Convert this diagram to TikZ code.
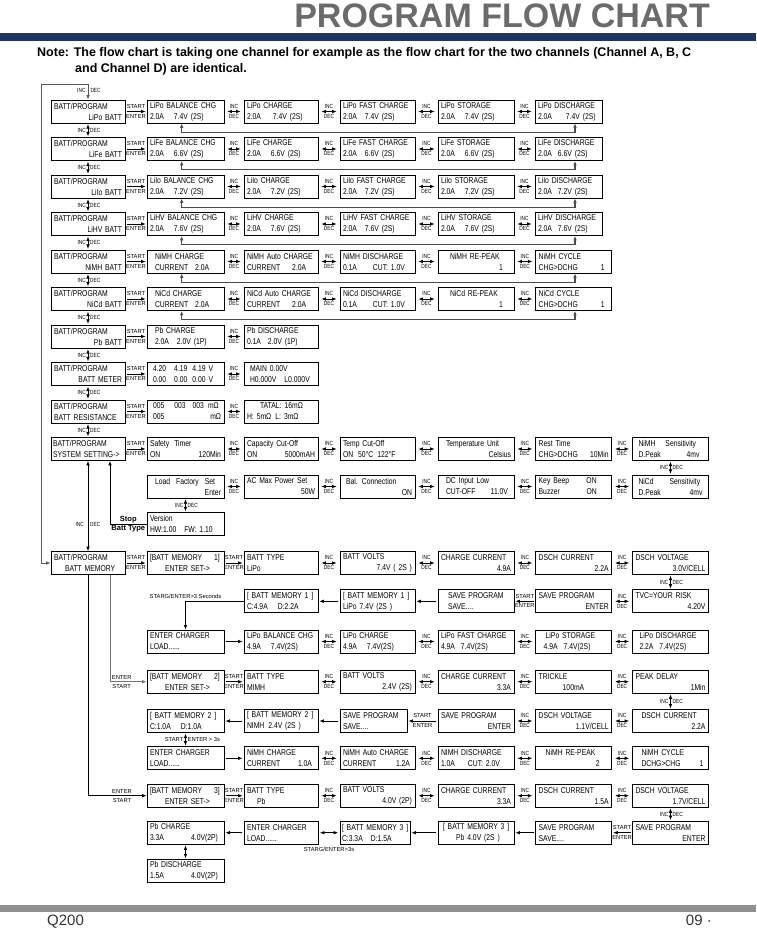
\documentclass[tikz,border=0pt]{standalone}
\usepackage{fontspec}
\setmainfont{Liberation Sans}[FakeStretch=0.8]
\newfontfamily\plainsf{Liberation Sans}
\usepackage{tikz}
\usetikzlibrary{arrows.meta, positioning}
\definecolor{navybar}{HTML}{1D3560}
\definecolor{headgray}{HTML}{6B6B6B}
\definecolor{footgray}{HTML}{8F8F8F}

\begin{document}
\begin{tikzpicture}[x=1pt, y=-1pt, >={Latex[length=4.5pt, width=3.6pt]},
    font=\fontsize{8.5}{11}\selectfont,
    scr/.style={draw, line width=0.8pt, minimum height=23pt, text width=#1, inner xsep=3pt, inner ysep=1pt, align=left},
    scr/.default=70pt,
    tag/.style={font=\fontsize{6}{6}\selectfont, inner sep=0.8pt},
    ptag/.style={font=\plainsf\fontsize{5.8}{6}\selectfont, inner sep=0.8pt},
    tagup/.style={midway, tag, above=2pt},
    tagdn/.style={midway, tag, below=1.5pt},
    ptagup/.style={midway, ptag, above=2pt},
    ptagdn/.style={midway, ptag, below=1.5pt},
    tagl/.style={midway, tag, left=1pt},
    tagr/.style={midway, tag, right=1pt},
    ptagl/.style={midway, ptag, left=1pt},
    ptagr/.style={midway, ptag, right=1pt},
    idarr/.style={<->, line width=0.7pt, shorten <=3pt, shorten >=3pt},
    goarr/.style={->, line width=0.7pt, shorten <=1.5pt, shorten >=1pt},
    vidarr/.style={<->, line width=0.7pt, shorten <=0.8pt, shorten >=0.8pt},
    wire/.style={line width=0.8pt},
    fback/.style={<->, line width=1.1pt, draw=black!70},
    stopfont/.style={font=\plainsf\bfseries\fontsize{7.5}{8}\selectfont, inner sep=1pt}]
    \useasboundingbox (0,0) rectangle (756,929);

    % header and footer
    \node[anchor=base east, inner sep=0, text=headgray, font=\plainsf\bfseries\fontsize{34}{34}\selectfont] (title) at (710,27.5) {PROGRAM FLOW CHART};
    \fill[navybar] (0,33) rectangle (756,41);
    \node[anchor=base west, inner sep=0, font=\plainsf\bfseries\fontsize{12.5}{14}\selectfont] (note1) at (37,56) {Note: The flow chart is taking one channel for example as the flow chart for the two channels (Channel A, B, C};
    \node[anchor=base west, inner sep=0, font=\plainsf\bfseries\fontsize{12.5}{14}\selectfont] (note2) at (75,72) {and Channel D) are identical.};
    \fill[footgray] (0,905) rectangle (756,912);
    \node[anchor=base west, inner sep=0, font=\plainsf\fontsize{15}{15}\selectfont, text=black!80] (model) at (47,925) {Q200};
    \node[anchor=base east, inner sep=0, font=\plainsf\fontsize{15}{15}\selectfont, text=black!80] (page) at (712,925) {09 ·};

    % battery rows
    \node[scr=68pt] (lipo0) at (88,111.5) {BATT/PROGRAM\\\hspace*{\fill}LiPo BATT};
    \node[scr=71pt] (lipo1) at (185.5,111.5) {LiPo BALANCE CHG\\2.0A\hspace{10pt}7.4V (2S)};
    \node[scr=68pt] (lipo2) at (281,111.5) {LiPo CHARGE\\2.0A\hspace{12pt}7.4V (2S)};
    \node[scr=69pt] (lipo3) at (377.5,111.5) {LiPo FAST CHARGE\\2.0A\hspace{8pt}7.4V (2S)};
    \node[scr] (lipo4) at (476,111.5) {LiPo STORAGE\\2.0A\hspace{10pt}7.4V (2S)};
    \node[scr=61pt] (lipo5) at (568.5,111.5) {LiPo DISCHARGE\\2.0A\hspace{14pt}7.4V~(2S)};

    \node[scr=68pt] (life0) at (88,149) {BATT/PROGRAM\\\hspace*{\fill}LiFe BATT};
    \node[scr=71pt] (life1) at (185.5,149) {LiFe BALANCE CHG\\2.0A\hspace{10pt}6.6V (2S)};
    \node[scr=68pt] (life2) at (281,149) {LiFe CHARGE\\2.0A\hspace{10pt}6.6V (2S)};
    \node[scr=69pt] (life3) at (377.5,149) {LiFe FAST CHARGE\\2.0A\hspace{8pt}6.6V (2S)};
    \node[scr] (life4) at (476,149) {LiFe STORAGE\\2.0A\hspace{10pt}6.6V (2S)};
    \node[scr=61pt] (life5) at (568.5,149) {LiFe DISCHARGE\\2.0A\hspace{6pt}6.6V (2S)};

    \node[scr=68pt] (lilo0) at (88,186.5) {BATT/PROGRAM\\\hspace*{\fill}LiIo BATT};
    \node[scr=71pt] (lilo1) at (185.5,186.5) {LiIo BALANCE CHG\\2.0A\hspace{10pt}7.2V (2S)};
    \node[scr=68pt] (lilo2) at (281,186.5) {LiIo CHARGE\\2.0A\hspace{10pt}7.2V (2S)};
    \node[scr=69pt] (lilo3) at (377.5,186.5) {LiIo FAST CHARGE\\2.0A\hspace{8pt}7.2V (2S)};
    \node[scr] (lilo4) at (476,186.5) {LiIo STORAGE\\2.0A\hspace{10pt}7.2V (2S)};
    \node[scr=61pt] (lilo5) at (568.5,186.5) {LiIo DISCHARGE\\2.0A\hspace{6pt}7.2V (2S)};

    \node[scr=68pt] (lihv0) at (88,224) {BATT/PROGRAM\\\hspace*{\fill}LiHV BATT};
    \node[scr=71pt] (lihv1) at (185.5,224) {LiHV BALANCE CHG\\2.0A\hspace{10pt}7.6V (2S)};
    \node[scr=68pt] (lihv2) at (281,224) {LiHV CHARGE\\2.0A\hspace{10pt}7.6V (2S)};
    \node[scr=69pt] (lihv3) at (377.5,224) {LiHV FAST CHARGE\\2.0A\hspace{8pt}7.6V (2S)};
    \node[scr] (lihv4) at (476,224) {LiHV STORAGE\\2.0A\hspace{10pt}7.6V (2S)};
    \node[scr=61pt] (lihv5) at (568.5,224) {LiHV DISCHARGE\\2.0A\hspace{6pt}7.6V (2S)};

    \node[scr=68pt] (nimh0) at (88,261.5) {BATT/PROGRAM\\\hspace*{\fill}NiMH BATT};
    \node[scr=71pt] (nimh1) at (185.5,261.5) {\hspace*{5pt}NiMH CHARGE\\\hspace*{5pt}CURRENT\hspace{7pt}2.0A};
    \node[scr=68pt] (nimh2) at (281,261.5) {NiMH Auto CHARGE\\CURRENT\hspace{12pt}2.0A};
    \node[scr=69pt] (nimh3) at (377.5,261.5) {NiMH DISCHARGE\\0.1A\hspace{16pt}CUT: 1.0V};
    \node[scr] (nimh4) at (476,261.5) {\hspace*{9pt}NiMH RE-PEAK\\\hspace*{\fill}1\hspace{8pt}\null};
    \node[scr] (nimh5) at (573.7,261.5) {NiMH CYCLE\\CHG>DCHG\hfill 1\hspace{4pt}\null};

    \node[scr=68pt] (nicd0) at (88,299) {BATT/PROGRAM\\\hspace*{\fill}NiCd BATT};
    \node[scr=71pt] (nicd1) at (185.5,299) {\hspace*{5pt}NiCd CHARGE\\\hspace*{5pt}CURRENT\hspace{7pt}2.0A};
    \node[scr=68pt] (nicd2) at (281,299) {NiCd Auto CHARGE\\CURRENT\hspace{12pt}2.0A};
    \node[scr=69pt] (nicd3) at (377.5,299) {NiCd DISCHARGE\\0.1A\hspace{16pt}CUT: 1.0V};
    \node[scr] (nicd4) at (476,299) {\hspace*{9pt}NiCd RE-PEAK\\\hspace*{\fill}1\hspace{8pt}\null};
    \node[scr] (nicd5) at (573.7,299) {NiCd CYCLE\\CHG>DCHG\hfill 1\hspace{4pt}\null};

    \node[scr=68pt] (pb0) at (88,336.5) {BATT/PROGRAM\\\hspace*{\fill}Pb BATT};
    \node[scr=71pt] (pb1) at (185.5,336.5) {\hspace*{5pt}Pb CHARGE\\\hspace*{5pt}2.0A\hspace{8pt}2.0V (1P)};
    \node[scr=68pt] (pb2) at (281,336.5) {Pb DISCHARGE\\0.1A\hspace{7pt}2.0V (1P)};

    \node[scr=68pt] (meter0) at (88,374) {BATT/PROGRAM\\\hspace*{\fill}BATT METER};
    \node[scr=71pt] (meter1) at (185.5,374) {\hspace*{3pt}4.20\hspace{8pt}4.19\hspace{5pt}4.19 V\\\hspace*{3pt}0.00\hspace{8pt}0.00\hspace{5pt}0.00 V};
    \node[scr=68pt] (meter2) at (281,374) {\hspace*{3pt}MAIN 0.00V\\\hspace*{3pt}H0.000V\hspace{8pt}L0.000V};

    \node[scr=68pt] (res0) at (88,411.5) {BATT/PROGRAM\\BATT~RESISTANCE};
    \node[scr=71pt] (res1) at (185.5,411.5) {\hspace*{3pt}005\hspace{10pt}003\hspace{7pt}003\hspace{4pt}mΩ\\\hspace*{3pt}005\hspace*{\fill}mΩ};
    \node[scr=68pt] (res2) at (281,411.5) {\hspace*{13pt}TATAL:\hspace{3pt}16mΩ\\H:\hspace{3pt}5mΩ\hspace{4pt}L:\hspace{3pt}3mΩ};

    % system setting
    \node[scr=70pt, inner xsep=2pt] (sys0) at (88,449) {BATT/PROGRAM\\SYSTEM~SETTING->};
    \node[scr=71pt] (sys1) at (185.5,449) {Safety\hspace{5pt}Timer\\ON\hfill 120Min};
    \node[scr=68pt] (sys2) at (281,449) {Capacity Cut-Off\\ON\hfill 5000mAH};
    \node[scr=69pt] (sys3) at (377.5,449) {Temp Cut-Off\\ON\hspace{5pt}50°C\hspace{4pt}122°F};
    \node[scr] (sys4) at (476,449) {\hspace*{5pt}Temperature Unit\\\hspace*{\fill}Celsius};
    \node[scr] (sys5) at (573.7,449) {Rest Time\\CHG>DCHG\hfill 10Min};
    \node[scr] (sys6) at (670.5,449) {\hspace*{3pt}NiMH\hspace{10pt}Sensitivity\\\hspace*{3pt}D.Peak\hfill 4mv\hspace{6pt}\null};
    \node[scr] (sys7) at (670.5,486.5) {\hspace*{3pt}NiCd\hspace{16pt}Sensitivity\\\hspace*{3pt}D.Peak\hfill 4mv\hspace{3pt}\null};
    \node[scr] (sys8) at (573.7,486.5) {Key Beep\hfill ON\hspace{12pt}\null\\Buzzer\hfill ON\hspace{12pt}\null};
    \node[scr] (sys9) at (476,486.5) {\hspace*{5pt}DC Input Low\\\hspace*{5pt}CUT-OFF\hfill 11.0V\hspace{3pt}\null};
    \node[scr=69pt] (sys10) at (377.5,486.5) {\hspace*{3pt}Bal. Connection\\\hspace*{\fill}ON};
    \node[scr=68pt] (sys11) at (281,486.5) {AC Max Power Set\\\hspace*{\fill}50W};
    \node[scr=71pt] (sys12) at (185.5,486.5) {\hspace*{5pt}Load\hspace{6pt}Factory\hspace{6pt}Set\\\hspace*{\fill}Enter};
    \node[scr=71pt] (sys13) at (185.5,524) {Version\\HW:1.00\hspace{8pt}FW: 1.10};

    % battery memory
    \node[scr=68pt] (mem) at (88,563) {BATT/PROGRAM\\\hspace*{11pt}BATT MEMORY};
    \node[scr=71pt] (ma1) at (185.5,563) {[BATT MEMORY\hspace{12pt}1]\\\hspace*{15pt}ENTER SET->};
    \node[scr=68pt] (ma2) at (281,563) {BATT TYPE\\LiPo};
    \node[scr=69pt] (ma3) at (377.5,563) {BATT VOLTS\\\hspace*{\fill}7.4V ( 2S )};
    \node[scr] (ma4) at (476,563) {CHARGE CURRENT\\\hspace*{\fill}4.9A};
    \node[scr] (ma5) at (573.7,563) {DSCH CURRENT\\\hspace*{\fill}2.2A};
    \node[scr] (ma6) at (670.5,563) {DSCH VOLTAGE\\\hspace*{\fill}3.0V/CELL};
    \node[scr] (ma7) at (670.5,601.3) {TVC=YOUR RISK\\\hspace*{\fill}4.20V};
    \node[scr] (ma8) at (573.7,601.3) {SAVE PROGRAM\\\hspace*{\fill}ENTER};
    \node[scr] (ma9) at (476,601.3) {\hspace*{7pt}SAVE PROGRAM\\\hspace*{7pt}SAVE....};
    \node[scr=69pt] (ma10) at (377.5,601.3) {\mbox{[ BATT MEMORY 1 ]}\\LiPo\hspace{3pt}7.4V (2S )};
    \node[scr=68pt] (ma11) at (281,601.3) {\mbox{[ BATT MEMORY 1 ]}\\C:4.9A\hspace{10pt}D:2.2A};
    \node[scr=71pt] (ma12) at (185.5,641.5) {ENTER CHARGER\\LOAD......};
    \node[scr=68pt] (ma13) at (281,641.5) {LiPo BALANCE CHG\\4.9A\hspace{10pt}7.4V(2S)};
    \node[scr=69pt] (ma14) at (377.5,641.5) {LiPo CHARGE\\4.9A\hspace{10pt}7.4V(2S)};
    \node[scr] (ma15) at (476,641.5) {LiPo FAST CHARGE\\4.9A\hspace{6pt}7.4V(2S)};
    \node[scr] (ma16) at (573.7,641.5) {\hspace*{7pt}LiPo STORAGE\\\hspace*{5pt}4.9A\hspace{6pt}7.4V(2S)};
    \node[scr] (ma17) at (670.5,641.5) {\hspace*{4pt}LiPo DISCHARGE\\\hspace*{4pt}2.2A\hspace{6pt}7.4V(2S)};

    \node[scr=71pt] (mb1) at (185.5,681.7) {[BATT MEMORY\hspace{12pt}2]\\\hspace*{15pt}ENTER SET->};
    \node[scr=68pt] (mb2) at (281,681.7) {BATT TYPE\\MIMH};
    \node[scr=69pt] (mb3) at (377.5,681.7) {BATT VOLTS\\\hspace*{\fill}2.4V (2S)};
    \node[scr] (mb4) at (476,681.7) {CHARGE CURRENT\\\hspace*{\fill}3.3A};
    \node[scr] (mb5) at (573.7,681.7) {TRICKLE\\\hspace*{24pt}100mA};
    \node[scr] (mb6) at (670.5,681.7) {PEAK DELAY\\\hspace*{\fill}1Min};
    \node[scr] (mb7) at (670.5,721) {\hspace*{6pt}DSCH CURRENT\\\hspace*{\fill}2.2A};
    \node[scr] (mb8) at (573.7,721) {DSCH VOLTAGE\\\hspace*{\fill}1.1V/CELL};
    \node[scr] (mb9) at (476,721) {SAVE PROGRAM\\\hspace*{\fill}ENTER};
    \node[scr=61pt] (mb10) at (373.5,721) {SAVE PROGRAM\\SAVE....};
    \node[scr=68pt] (mb11) at (281,721) {\mbox{[ BATT MEMORY 2 ]}\\NIMH\hspace{4pt}2.4V (2S )};
    \node[scr=71pt] (mb12) at (185.5,721) {\mbox{[ BATT MEMORY 2 ]}\\C:1.0A\hspace{10pt}D:1.0A};
    \node[scr=71pt] (mb13) at (185.5,758.3) {ENTER CHARGER\\LOAD......};
    \node[scr=68pt] (mb14) at (281,758.3) {NiMH CHARGE\\CURRENT\hfill 1.0A\hspace{3pt}\null};
    \node[scr=69pt] (mb15) at (377.5,758.3) {NiMH Auto CHARGE\\CURRENT\hfill 1.2A\hspace{2pt}\null};
    \node[scr] (mb16) at (476,758.3) {NIMH DISCHARGE\\1.0A\hspace{13pt}CUT: 2.0V};
    \node[scr] (mb17) at (573.7,758.3) {\hspace*{7pt}NiMH RE-PEAK\\\hspace*{\fill}2\hspace{9pt}\null};
    \node[scr] (mb18) at (670.5,758.3) {\hspace*{6pt}NiMH CYCLE\\\hspace*{6pt}DCHG>CHG\hfill 1\hspace{2pt}\null};

    \node[scr=71pt] (mc1) at (185.5,795.7) {[BATT MEMORY\hspace{12pt}3]\\\hspace*{15pt}ENTER SET->};
    \node[scr=68pt] (mc2) at (281,795.7) {BATT TYPE\\\hspace*{10pt}Pb};
    \node[scr=69pt] (mc3) at (377.5,795.7) {BATT VOLTS\\\hspace*{\fill}4.0V (2P)};
    \node[scr] (mc4) at (476,795.7) {CHARGE CURRENT\\\hspace*{\fill}3.3A};
    \node[scr] (mc5) at (573.7,795.7) {DSCH CURRENT\\\hspace*{\fill}1.5A};
    \node[scr] (mc6) at (670.5,795.7) {DSCH VOLTAGE\\\hspace*{\fill}1.7V/CELL};
    \node[scr] (mc7) at (670.5,832.7) {SAVE PROGRAM\\\hspace*{\fill}ENTER};
    \node[scr] (mc8) at (573.7,832.7) {SAVE PROGRAM\\SAVE....};
    \node[scr] (mc9) at (476,832.7) {\hspace*{2pt}\mbox{[ BATT MEMORY 3 ]}\\\hspace*{15pt}Pb\hspace{3pt}4.0V (2S )};
    \node[scr=66pt, inner xsep=2pt] (mc10) at (375,832.7) {\mbox{[ BATT MEMORY 3 ]}\\C:3.3A\hspace{8pt}D:1.5A};
    \node[scr=68pt] (mc11) at (281,832.7) {ENTER CHARGER\\LOAD......};
    \node[scr=71pt] (mc12) at (185.5,832.7) {Pb CHARGE\\3.3A\hfill 4.0V(2P)\hspace{3pt}\null};
    \node[scr=71pt] (mc13) at (185.5,871) {Pb DISCHARGE\\1.5A\hfill 4.0V(2P)\hspace{3pt}\null};

    % main column INC/DEC
    \coordinate (loopTop) at (41,84);
    \draw[wire, <->, draw=black!65] (mem.west) -| (loopTop) -| (lipo0.north);
    \node[tag, anchor=east] (incTop) at (86.5,90) {INC};
    \node[tag, anchor=west] (decTop) at (89.5,90) {DEC};
    \draw[vidarr] (lipo0) -- (life0) node[tagl]{INC} node[tagr]{DEC};
    \draw[vidarr] (life0) -- (lilo0) node[tagl]{INC} node[tagr]{DEC};
    \draw[vidarr] (lilo0) -- (lihv0) node[tagl]{INC} node[tagr]{DEC};
    \draw[vidarr] (lihv0) -- (nimh0) node[tagl]{INC} node[tagr]{DEC};
    \draw[vidarr] (nimh0) -- (nicd0) node[tagl]{INC} node[tagr]{DEC};
    \draw[vidarr] (nicd0) -- (pb0) node[tagl]{INC} node[tagr]{DEC};
    \draw[vidarr] (pb0) -- (meter0) node[tagl]{INC} node[tagr]{DEC};
    \draw[vidarr] (meter0) -- (res0) node[tagl]{INC} node[tagr]{DEC};
    \draw[vidarr] (res0) -- (sys0) node[tagl]{INC} node[tagr]{DEC};
    \draw[wire, <->] (sys0.south) -- (mem.north) node[pos=0.7, tag, left=3pt]{INC} node[pos=0.7, tag, right=1pt]{DEC};

    % LiPo .. LiHV
    \draw[goarr] (lipo0) -- (lipo1) node[ptagup]{START} node[ptagdn]{ENTER};
    \draw[idarr] (lipo1) -- (lipo2) node[tagup]{INC} node[tagdn]{DEC};
    \draw[idarr] (lipo2) -- (lipo3) node[tagup]{INC} node[tagdn]{DEC};
    \draw[idarr] (lipo3) -- (lipo4) node[tagup]{INC} node[tagdn]{DEC};
    \draw[idarr] (lipo4) -- (lipo5) node[tagup]{INC} node[tagdn]{DEC};
    \draw[fback] ([xshift=-3.8pt]lipo1.south) -- ++(0,9) -| ([xshift=6.5pt]lipo5.south);

    \draw[goarr] (life0) -- (life1) node[ptagup]{START} node[ptagdn]{ENTER};
    \draw[idarr] (life1) -- (life2) node[tagup]{INC} node[tagdn]{DEC};
    \draw[idarr] (life2) -- (life3) node[tagup]{INC} node[tagdn]{DEC};
    \draw[idarr] (life3) -- (life4) node[tagup]{INC} node[tagdn]{DEC};
    \draw[idarr] (life4) -- (life5) node[tagup]{INC} node[tagdn]{DEC};
    \draw[fback] ([xshift=-3.8pt]life1.south) -- ++(0,9) -| ([xshift=6.5pt]life5.south);

    \draw[goarr] (lilo0) -- (lilo1) node[ptagup]{START} node[ptagdn]{ENTER};
    \draw[idarr] (lilo1) -- (lilo2) node[tagup]{INC} node[tagdn]{DEC};
    \draw[idarr] (lilo2) -- (lilo3) node[tagup]{INC} node[tagdn]{DEC};
    \draw[idarr] (lilo3) -- (lilo4) node[tagup]{INC} node[tagdn]{DEC};
    \draw[idarr] (lilo4) -- (lilo5) node[tagup]{INC} node[tagdn]{DEC};
    \draw[fback] ([xshift=-3.8pt]lilo1.south) -- ++(0,9) -| ([xshift=6.5pt]lilo5.south);

    \draw[goarr] (lihv0) -- (lihv1) node[ptagup]{START} node[ptagdn]{ENTER};
    \draw[idarr] (lihv1) -- (lihv2) node[tagup]{INC} node[tagdn]{DEC};
    \draw[idarr] (lihv2) -- (lihv3) node[tagup]{INC} node[tagdn]{DEC};
    \draw[idarr] (lihv3) -- (lihv4) node[tagup]{INC} node[tagdn]{DEC};
    \draw[idarr] (lihv4) -- (lihv5) node[tagup]{INC} node[tagdn]{DEC};
    \draw[fback] ([xshift=-3.8pt]lihv1.south) -- ++(0,9) -| ([xshift=6.5pt]lihv5.south);

    % NiMH, NiCd
    \draw[goarr] (nimh0) -- (nimh1) node[ptagup]{START} node[ptagdn]{ENTER};
    \draw[idarr] (nimh1) -- (nimh2) node[tagup]{INC} node[tagdn]{DEC};
    \draw[idarr] (nimh2) -- (nimh3) node[tagup]{INC} node[tagdn]{DEC};
    \draw[idarr] (nimh3) -- (nimh4) node[tagup]{INC} node[tagdn]{DEC};
    \draw[idarr] (nimh4) -- (nimh5) node[tagup]{INC} node[tagdn]{DEC};
    \draw[fback] ([xshift=-3.8pt]nimh1.south) -- ++(0,9) -| ([xshift=1.3pt]nimh5.south);

    \draw[goarr] (nicd0) -- (nicd1) node[ptagup]{START} node[ptagdn]{ENTER};
    \draw[idarr] (nicd1) -- (nicd2) node[tagup]{INC} node[tagdn]{DEC};
    \draw[idarr] (nicd2) -- (nicd3) node[tagup]{INC} node[tagdn]{DEC};
    \draw[idarr] (nicd3) -- (nicd4) node[tagup]{INC} node[tagdn]{DEC};
    \draw[idarr] (nicd4) -- (nicd5) node[tagup]{INC} node[tagdn]{DEC};
    \draw[fback] ([xshift=-3.8pt]nicd1.south) -- ++(0,9) -| ([xshift=1.3pt]nicd5.south);

    % Pb, meter, resistance
    \draw[goarr] (pb0) -- (pb1) node[ptagup]{START} node[ptagdn]{ENTER};
    \draw[idarr] (pb1) -- (pb2) node[tagup]{INC} node[tagdn]{DEC};
    \draw[goarr] (meter0) -- (meter1) node[ptagup]{START} node[ptagdn]{ENTER};
    \draw[idarr] (meter1) -- (meter2) node[tagup]{INC} node[tagdn]{DEC};
    \draw[goarr] (res0) -- (res1) node[ptagup]{START} node[ptagdn]{ENTER};
    \draw[idarr] (res1) -- (res2) node[tagup]{INC} node[tagdn]{DEC};

    % system setting
    \draw[goarr] (sys0) -- (sys1) node[ptagup]{START} node[ptagdn]{ENTER};
    \draw[idarr] (sys1) -- (sys2) node[tagup]{INC} node[tagdn]{DEC};
    \draw[idarr] (sys2) -- (sys3) node[tagup]{INC} node[tagdn]{DEC};
    \draw[idarr] (sys3) -- (sys4) node[tagup]{INC} node[tagdn]{DEC};
    \draw[idarr] (sys4) -- (sys5) node[tagup]{INC} node[tagdn]{DEC};
    \draw[idarr] (sys5) -- (sys6) node[tagup]{INC} node[tagdn]{DEC};
    \draw[vidarr] (sys6) -- (sys7) node[tagl]{INC} node[tagr]{DEC};
    \draw[idarr] (sys7) -- (sys8) node[tagup]{INC} node[tagdn]{DEC};
    \draw[idarr] (sys8) -- (sys9) node[tagup]{INC} node[tagdn]{DEC};
    \draw[idarr] (sys9) -- (sys10) node[tagup]{INC} node[tagdn]{DEC};
    \draw[idarr] (sys10) -- (sys11) node[tagup]{INC} node[tagdn]{DEC};
    \draw[idarr] (sys11) -- (sys12) node[tagup]{INC} node[tagdn]{DEC};
    \draw[vidarr] (sys12) -- (sys13) node[tagl]{INC} node[tagr]{DEC};
    \draw[wire, ->] (sys13.west) -| ([xshift=22pt]sys0.south) node[pos=0.25, stopfont, above]{Stop} node[pos=0.25, stopfont, below]{Batt Type};

    % memory 1
    \draw[goarr] (mem) -- (ma1) node[ptagup]{START} node[ptagdn]{ENTER};
    \draw[goarr] (ma1) -- (ma2) node[ptagup]{START} node[ptagdn]{ENTER};
    \draw[idarr] (ma2) -- (ma3) node[tagup]{INC} node[tagdn]{DEC};
    \draw[idarr] (ma3) -- (ma4) node[tagup]{INC} node[tagdn]{DEC};
    \draw[idarr] (ma4) -- (ma5) node[tagup]{INC} node[tagdn]{DEC};
    \draw[idarr] (ma5) -- (ma6) node[tagup]{INC} node[tagdn]{DEC};
    \draw[vidarr] (ma6) -- (ma7) node[tagl]{INC} node[tagr]{DEC};
    \draw[idarr] (ma7) -- (ma8) node[tagup]{INC} node[tagdn]{DEC};
    \draw[goarr] (ma8) -- (ma9) node[ptagup]{START} node[ptagdn]{ENTER};
    \draw[goarr] (ma9) -- (ma10);
    \draw[goarr] (ma10) -- (ma11);
    \draw[wire, ->] (ma11.west) -| (ma12.north) node[pos=0.5, ptag, above=2pt]{STARG/ENTER>3 Seconds};
    \draw[goarr] (ma12) -- (ma13);
    \draw[idarr] (ma13) -- (ma14) node[tagup]{INC} node[tagdn]{DEC};
    \draw[idarr] (ma14) -- (ma15) node[tagup]{INC} node[tagdn]{DEC};
    \draw[idarr] (ma15) -- (ma16) node[tagup]{INC} node[tagdn]{DEC};
    \draw[idarr] (ma16) -- (ma17) node[tagup]{INC} node[tagdn]{DEC};

    % memory 2
    \draw[wire, ->, draw=black!55] ([xshift=22pt]mem.south) |- (mb1.west) node[pos=0.66, ptag, above=1.5pt]{ENTER} node[pos=0.66, ptag, below=1.5pt]{START};
    \draw[goarr] (mb1) -- (mb2) node[ptagup]{START} node[ptagdn]{ENTER};
    \draw[idarr] (mb2) -- (mb3) node[tagup]{INC} node[tagdn]{DEC};
    \draw[idarr] (mb3) -- (mb4) node[tagup]{INC} node[tagdn]{DEC};
    \draw[idarr] (mb4) -- (mb5) node[tagup]{INC} node[tagdn]{DEC};
    \draw[idarr] (mb5) -- (mb6) node[tagup]{INC} node[tagdn]{DEC};
    \draw[vidarr] (mb6) -- (mb7) node[tagl]{INC} node[tagr]{DEC};
    \draw[idarr] (mb7) -- (mb8) node[tagup]{INC} node[tagdn]{DEC};
    \draw[idarr] (mb8) -- (mb9) node[tagup]{INC} node[tagdn]{DEC};
    \draw[goarr] (mb9) -- (mb10) node[ptagup]{START} node[ptagdn]{ENTER};
    \draw[goarr] (mb10) -- (mb11);
    \draw[goarr] (mb11) -- (mb12);
    \draw[vidarr] (mb12) -- (mb13) node[ptagl]{START} node[ptagr]{ENTER > 3s};
    \draw[goarr] (mb13) -- (mb14);
    \draw[idarr] (mb14) -- (mb15) node[tagup]{INC} node[tagdn]{DEC};
    \draw[idarr] (mb15) -- (mb16) node[tagup]{INC} node[tagdn]{DEC};
    \draw[idarr] (mb16) -- (mb17) node[tagup]{INC} node[tagdn]{DEC};
    \draw[idarr] (mb17) -- (mb18) node[tagup]{INC} node[tagdn]{DEC};

    % memory 3
    \draw[wire, ->] (mem.south) |- (mc1.west) node[pos=0.79, ptag, above=1.5pt]{ENTER} node[pos=0.79, ptag, below=1.5pt]{START};
    \draw[goarr] (mc1) -- (mc2) node[ptagup]{START} node[ptagdn]{ENTER};
    \draw[idarr] (mc2) -- (mc3) node[tagup]{INC} node[tagdn]{DEC};
    \draw[idarr] (mc3) -- (mc4) node[tagup]{INC} node[tagdn]{DEC};
    \draw[idarr] (mc4) -- (mc5) node[tagup]{INC} node[tagdn]{DEC};
    \draw[idarr] (mc5) -- (mc6) node[tagup]{INC} node[tagdn]{DEC};
    \draw[vidarr] (mc6) -- (mc7) node[tagl]{INC} node[tagr]{DEC};
    \draw[goarr] (mc7) -- (mc8) node[ptagup]{START} node[ptagdn]{ENTER};
    \draw[goarr] (mc8) -- (mc9);
    \draw[goarr] (mc9) -- (mc10);
    \draw[idarr, shorten <=1.5pt, shorten >=1.5pt] (mc10) -- (mc11) node[midway, ptag, below=13pt]{STARG/ENTER>3s};
    \draw[goarr] (mc11) -- (mc12);
    \draw[vidarr] (mc12) -- (mc13);
\end{tikzpicture}
\end{document}
